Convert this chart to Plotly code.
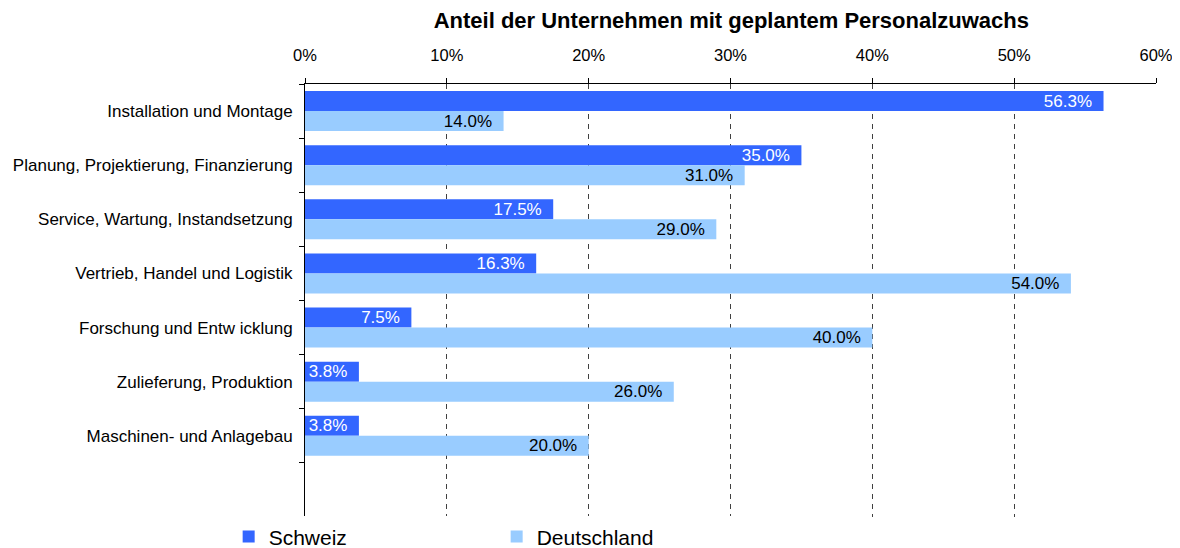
import plotly.graph_objects as go

categories = [
    "Installation und Montage",
    "Planung, Projektierung, Finanzierung",
    "Service, Wartung, Instandsetzung",
    "Vertrieb, Handel und Logistik",
    "Forschung und Entw icklung",
    "Zulieferung, Produktion",
    "Maschinen- und Anlagebau",
]
schweiz = [56.3, 35.0, 17.5, 16.3, 7.5, 3.8, 3.8]
deutschland = [14.0, 31.0, 29.0, 54.0, 40.0, 26.0, 20.0]
x_ticks = [0, 10, 20, 30, 40, 50, 60]
x_ticklabels = ["0%", "10%", "20%", "30%", "40%", "50%", "60%"]
title = "Anteil der Unternehmen mit geplantem Personalzuwachs"

all_cats = categories + [" "]
FONT = "Liberation Sans, Arial, sans-serif"

fig = go.Figure()
fig.add_trace(go.Bar(
    name="Schweiz", y=categories, x=schweiz, orientation="h",
    marker=dict(color="#3366FF", line=dict(width=0)),
    text=[f"{v:.1f}%\u2002" for v in schweiz],
    textposition="inside", insidetextanchor="end", constraintext="none",
    textfont=dict(color="white", size=17, family=FONT),
))
fig.add_trace(go.Bar(
    name="Deutschland", y=categories, x=deutschland, orientation="h",
    marker=dict(color="#99CCFF", line=dict(width=0)),
    text=[f"{v:.1f}%\u2002" for v in deutschland],
    textposition="inside", insidetextanchor="end", constraintext="none",
    textfont=dict(color="black", size=17, family=FONT),
))

fig.update_layout(
    width=1180, height=548,
    paper_bgcolor="white", plot_bgcolor="white",
    font=dict(family=FONT, size=17, color="black"),
    margin=dict(l=297, r=32, t=76, b=39, autoexpand=False),
    barmode="group", bargap=0.26, bargroupgap=0,
    title=dict(text=title, x=0.613, xanchor="center", y=0.978, yanchor="middle",
               font=dict(size=22, family=FONT, color="black", weight="bold")),
    showlegend=True,
    legend=dict(orientation="h", xref="container", yref="container",
                x=0.187, xanchor="left", y=0.035, yanchor="middle",
                font=dict(size=21, family=FONT), entrywidth=223, entrywidthmode="pixels",
                traceorder="normal", itemwidth=30),
    xaxis=dict(
        side="top", range=[0, 60], tickvals=x_ticks, ticktext=x_ticklabels,
        showline=True, linecolor="black", linewidth=1,
        ticks="outside", ticklen=5, tickcolor="black",
        showgrid=True, gridcolor="#404040", gridwidth=1, griddash="5px,5px",
        zeroline=False, tickfont=dict(size=16.5), ticklabelstandoff=10,
        automargin=False,
    ),
    yaxis=dict(
        type="category", categoryorder="array", categoryarray=all_cats,
        range=[7.5, -0.5], tickson="boundaries",
        showline=True, linecolor="black", linewidth=1,
        ticks="outside", ticklen=5, tickcolor="black",
        showgrid=False, tickfont=dict(size=17), ticklabelstandoff=8,
        automargin=False,
    ),
)

fig.write_html("out.html")
